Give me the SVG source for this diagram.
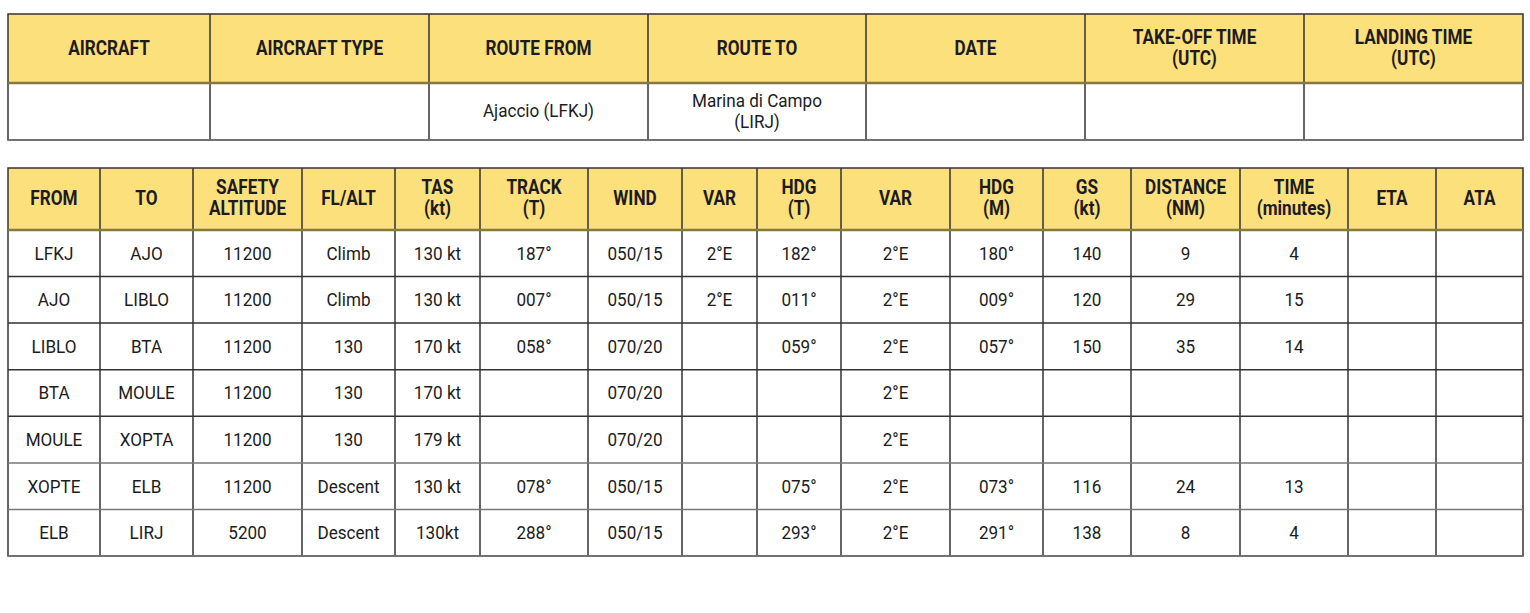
<svg xmlns="http://www.w3.org/2000/svg" width="1530" height="613" viewBox="0 0 1530 613">
<style>
text{font-family:Roboto,"Liberation Sans",sans-serif;fill:#1c1c1c;text-anchor:middle;transform-box:fill-box;transform-origin:center}
.h{font-weight:700;font-size:20px}
.h text{transform:scaleX(0.86)}
.d{font-size:19px}
.d text{transform:scaleX(0.9)}
.hd{fill:#fce07c}
.g{stroke:#333;stroke-width:1.5;fill:none}
.hb{stroke:#857845;stroke-width:2.5}
.rb{stroke:#777;stroke-width:1.5}
</style>
<rect width="1530" height="613" fill="#fff"/>
<g id="top-table">
<rect class="hd" x="8" y="14" width="1515" height="69"/>
<rect x="8" y="83" width="1515" height="57" fill="#fff"/>
<g class="g">
<path d="M8 14H1523V140H8Z"/>
<path d="M210 14V140M429 14V140M648 14V140M866 14V140M1085 14V140M1304 14V140"/>
</g>
<path class="hb" d="M8 83H1523"/>
<path class="rb" d="M8 140H1523"/>
<g class="h">
<text x="109" y="55">AIRCRAFT</text>
<text x="319.5" y="55">AIRCRAFT TYPE</text>
<text x="538.5" y="55">ROUTE FROM</text>
<text x="757" y="55">ROUTE TO</text>
<text x="975.5" y="55">DATE</text>
<text x="1194.5" y="44">TAKE-OFF TIME</text>
<text x="1194.5" y="65">(UTC)</text>
<text x="1413.5" y="44">LANDING TIME</text>
<text x="1413.5" y="65">(UTC)</text>
</g>
<g class="d">
<text x="538.5" y="117">Ajaccio (LFKJ)</text>
<text x="757" y="107">Marina di Campo</text>
<text x="757" y="128">(LIRJ)</text>
</g>
</g>
<g id="log-table">
<rect class="hd" x="8" y="168" width="1515" height="62"/>
<g class="g">
<path d="M8 168H1523V556H8Z"/>
<path d="M100 168V556M193 168V556M302 168V556M395 168V556M480 168V556M588 168V556M682 168V556M757 168V556M841 168V556M950 168V556M1043 168V556M1131 168V556M1240 168V556M1348 168V556M1436 168V556"/>
<path d="M8 276.6H1523M8 323.1H1523M8 369.7H1523M8 416.3H1523"/>
</g>
<path class="rb" d="M8 462.9H1523M8 509.4H1523M8 556H1523"/>
<path class="hb" d="M8 230H1523"/>
<g class="h">
<text x="54" y="205">FROM</text>
<text x="146.5" y="205">TO</text>
<text x="247.5" y="194">SAFETY</text>
<text x="247.5" y="215">ALTITUDE</text>
<text x="348.5" y="205">FL/ALT</text>
<text x="437.5" y="194">TAS</text>
<text x="437.5" y="215">(kt)</text>
<text x="534" y="194">TRACK</text>
<text x="534" y="215">(T)</text>
<text x="635" y="205">WIND</text>
<text x="719.5" y="205">VAR</text>
<text x="799" y="194">HDG</text>
<text x="799" y="215">(T)</text>
<text x="895.5" y="205">VAR</text>
<text x="996.5" y="194">HDG</text>
<text x="996.5" y="215">(M)</text>
<text x="1087" y="194">GS</text>
<text x="1087" y="215">(kt)</text>
<text x="1185.5" y="194">DISTANCE</text>
<text x="1185.5" y="215">(NM)</text>
<text x="1294" y="194">TIME</text>
<text x="1294" y="215">(minutes)</text>
<text x="1392" y="205">ETA</text>
<text x="1479.5" y="205">ATA</text>
</g>
<g class="d">
<text x="54" y="259.8">LFKJ</text><text x="146.5" y="259.8">AJO</text><text x="247.5" y="259.8">11200</text><text x="348.5" y="259.8">Climb</text><text x="437.5" y="259.8">130 kt</text><text x="534" y="259.8">187°</text><text x="635" y="259.8">050/15</text><text x="719.5" y="259.8">2°E</text><text x="799" y="259.8">182°</text><text x="895.5" y="259.8">2°E</text><text x="996.5" y="259.8">180°</text><text x="1087" y="259.8">140</text><text x="1185.5" y="259.8">9</text><text x="1294" y="259.8">4</text>
<text x="54" y="306.4">AJO</text><text x="146.5" y="306.4">LIBLO</text><text x="247.5" y="306.4">11200</text><text x="348.5" y="306.4">Climb</text><text x="437.5" y="306.4">130 kt</text><text x="534" y="306.4">007°</text><text x="635" y="306.4">050/15</text><text x="719.5" y="306.4">2°E</text><text x="799" y="306.4">011°</text><text x="895.5" y="306.4">2°E</text><text x="996.5" y="306.4">009°</text><text x="1087" y="306.4">120</text><text x="1185.5" y="306.4">29</text><text x="1294" y="306.4">15</text>
<text x="54" y="353">LIBLO</text><text x="146.5" y="353">BTA</text><text x="247.5" y="353">11200</text><text x="348.5" y="353">130</text><text x="437.5" y="353">170 kt</text><text x="534" y="353">058°</text><text x="635" y="353">070/20</text><text x="799" y="353">059°</text><text x="895.5" y="353">2°E</text><text x="996.5" y="353">057°</text><text x="1087" y="353">150</text><text x="1185.5" y="353">35</text><text x="1294" y="353">14</text>
<text x="54" y="399.5">BTA</text><text x="146.5" y="399.5">MOULE</text><text x="247.5" y="399.5">11200</text><text x="348.5" y="399.5">130</text><text x="437.5" y="399.5">170 kt</text><text x="635" y="399.5">070/20</text><text x="895.5" y="399.5">2°E</text>
<text x="54" y="446.1">MOULE</text><text x="146.5" y="446.1">XOPTA</text><text x="247.5" y="446.1">11200</text><text x="348.5" y="446.1">130</text><text x="437.5" y="446.1">179 kt</text><text x="635" y="446.1">070/20</text><text x="895.5" y="446.1">2°E</text>
<text x="54" y="492.7">XOPTE</text><text x="146.5" y="492.7">ELB</text><text x="247.5" y="492.7">11200</text><text x="348.5" y="492.7">Descent</text><text x="437.5" y="492.7">130 kt</text><text x="534" y="492.7">078°</text><text x="635" y="492.7">050/15</text><text x="799" y="492.7">075°</text><text x="895.5" y="492.7">2°E</text><text x="996.5" y="492.7">073°</text><text x="1087" y="492.7">116</text><text x="1185.5" y="492.7">24</text><text x="1294" y="492.7">13</text>
<text x="54" y="539.3">ELB</text><text x="146.5" y="539.3">LIRJ</text><text x="247.5" y="539.3">5200</text><text x="348.5" y="539.3">Descent</text><text x="437.5" y="539.3">130kt</text><text x="534" y="539.3">288°</text><text x="635" y="539.3">050/15</text><text x="799" y="539.3">293°</text><text x="895.5" y="539.3">2°E</text><text x="996.5" y="539.3">291°</text><text x="1087" y="539.3">138</text><text x="1185.5" y="539.3">8</text><text x="1294" y="539.3">4</text>
</g>
</g>
</svg>
